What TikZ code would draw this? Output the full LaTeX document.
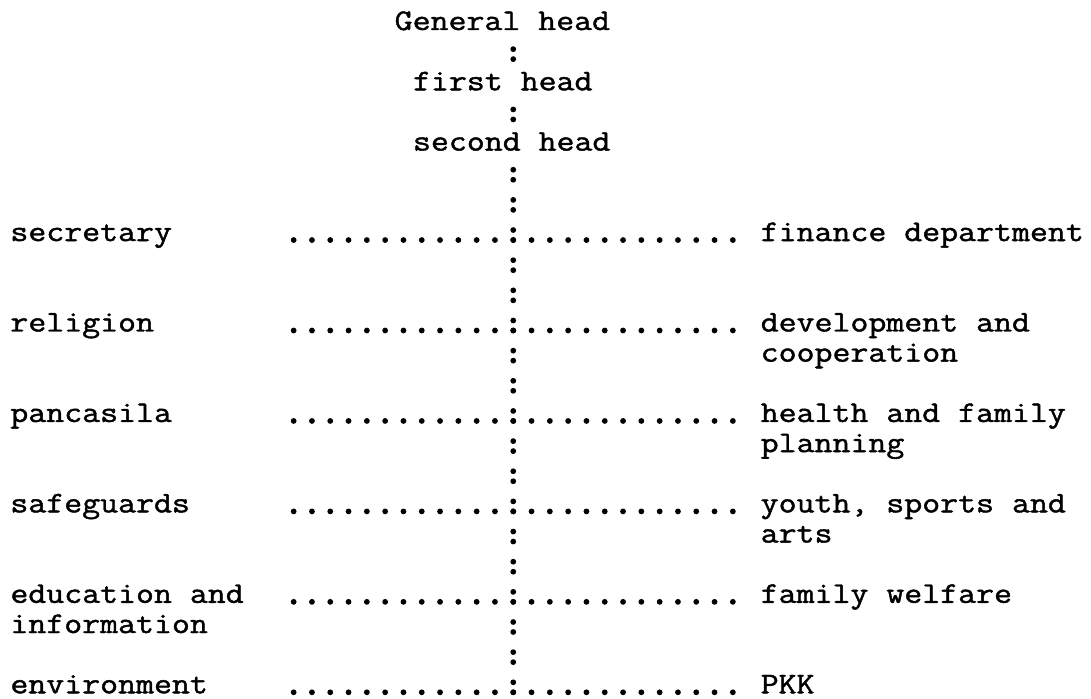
\documentclass[tikz,border=0pt]{standalone}
\usepackage{fontspec}
\newfontfamily\tw{Latin Modern Mono}[FakeStretch=1.162, FakeBold=1.4]
\usetikzlibrary{positioning}
\tikzset{
    lbl/.style={font={\tw\fontsize{15}{15.075}\selectfont}, anchor=base west, inner sep=0pt, align=left},
    twoline/.style={yshift=-15.075pt},
    leader/.style={line width=2.9pt, line cap=round, dash pattern=on 0pt off 9.15pt},
    spine/.style={line width=2.9pt, line cap=round, dash pattern=on 0pt off 5pt on 0pt off 10.075pt}
}

\begin{document}
\begin{tikzpicture}[x=0.5pt, y=-0.5pt]
    \useasboundingbox (0,0) rectangle (1091,699);

    % --- Heads ---
    \node (gen) [lbl] at (394.3,30) {General head};
    \node (first) [lbl] at (412.6,90.3) {first head};
    \node (second) [lbl] at (412.6,150.6) {second head};

    % --- Left column ---
    \node (secretary) [lbl] at (10,241.05) {secretary};
    \node (religion) [lbl] at (10,331.5) {religion};
    \node (pancasila) [lbl] at (10,421.95) {pancasila};
    \node (safeguards) [lbl] at (10,512.4) {safeguards};
    \node (education) [lbl, twoline] at (10,602.85) {education and\\information};
    \node (environment) [lbl] at (10,693.3) {environment};

    % --- Right column ---
    \node (finance) [lbl] at (760.3,241.05) {finance department};
    \node (develop) [lbl, twoline] at (760.3,331.5) {development and\\cooperation};
    \node (health) [lbl, twoline] at (760.3,421.95) {health and family\\planning};
    \node (youth) [lbl, twoline] at (760.3,512.4) {youth, sports and\\arts};
    \node (welfare) [lbl] at (760.3,602.85) {family welfare};
    \node (pkk) [lbl] at (760.3,693.3) {PKK};

    % --- Vertical line of colons ---
    \coordinate (c2a) at (513.25,49.15);
    \coordinate (c2b) at (513.25,59.15);
    \coordinate (c4a) at (513.25,109.45);
    \coordinate (c4b) at (513.25,119.45);
    \coordinate (c6a) at (513.25,169.75);
    \coordinate (c23b) at (513.25,692.6);
    \draw[spine] (c2a) -- (c2b);
    \draw[spine] (c4a) -- (c4b);
    \draw[spine] (c6a) -- (c23b);

    % --- Dotted leaders ---
    \foreach \n/\b in {8/241.05, 11/331.5, 14/421.95, 17/512.4, 20/602.85, 23/693.3}{
        \coordinate (a\n) at (293.65,\b-1);
        \coordinate (b\n) at (733.1,\b-1);
        \draw[leader] (a\n) -- (b\n);
    }
\end{tikzpicture}
\end{document}
